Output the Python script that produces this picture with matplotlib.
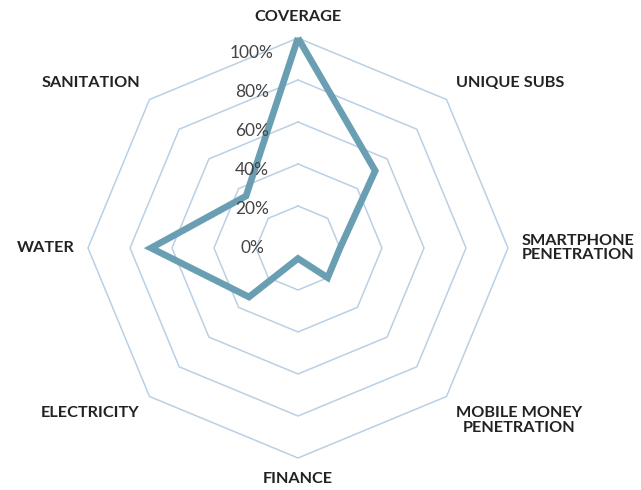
import numpy as np
import matplotlib
matplotlib.use("Agg")
import matplotlib.pyplot as plt

categories = ["COVERAGE", "UNIQUE SUBS", "SMARTPHONE\nPENETRATION", "MOBILE MONEY\nPENETRATION",
              "FINANCE", "ELECTRICITY", "WATER", "SANITATION"]
values = [100, 52, 20, 20, 5, 33, 70, 35]
ring_values = [20, 40, 60, 80, 100]
tick_values = [0, 20, 40, 60, 80, 100]
tick_labels = ["0%", "20%", "40%", "60%", "80%", "100%"]

line_color = "#6a9fb3"
grid_color = "#b9d0e5"
text_color = "#222222"
tick_color = "#444444"

fig = plt.figure(figsize=(6.41, 4.90), dpi=100)
W, H = 641, 490
cx, cy, R = 298, 248, 210
ax = fig.add_axes([(cx - R) / W, (H - cy - R) / H, 2 * R / W, 2 * R / H], projection="polar")
ax.set_theta_zero_location("N")
ax.set_theta_direction(-1)
ax.set_ylim(0, 100)
ax.axis("off")

n = len(categories)
theta = np.arange(n) * 2 * np.pi / n
theta_c = np.append(theta, theta[0])

for rv in ring_values:
    ax.plot(theta_c, [rv] * (n + 1), color=grid_color, lw=1.1, clip_on=False, zorder=1)

vals_c = np.append(values, values[0])
ax.plot(theta_c, vals_c, color=line_color, lw=4.8, solid_joinstyle="miter",
        solid_capstyle="butt", clip_on=False, zorder=3)

for tv, tl in zip(tick_values, tick_labels):
    ax.annotate(tl, xy=(0, tv * 0.93), xytext=(-46, 0), textcoords="offset pixels",
                ha="center", va="center", fontsize=12.5, color=tick_color,
                family="Lato", fontweight="normal", annotation_clip=False, zorder=4)

for t, lab in zip(theta, categories):
    sx, sy = np.sin(t), np.cos(t)
    ha = "left" if sx > 0.1 else ("right" if sx < -0.1 else "center")
    va = "bottom" if sy > 0.1 else ("top" if sy < -0.1 else "center")
    ax.text(t, 106.5, lab, ha=ha, va=va, ma="center", fontsize=11.7, color=text_color,
            family="Lato", fontweight="bold", linespacing=1.05, clip_on=False)

fig.savefig("out.png", dpi=100)
